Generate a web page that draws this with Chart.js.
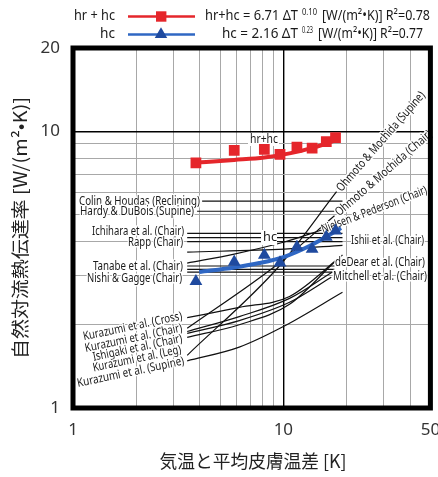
<!DOCTYPE html>
<html><head><meta charset="utf-8">
<script src="https://cdn.jsdelivr.net/npm/chart.js@4.4.1/dist/chart.umd.min.js"></script>
<style>html,body{margin:0;padding:0;background:#fff}#wrap{width:438px;height:477px;position:relative}</style>
</head><body><div id="wrap"><canvas id="c"></canvas></div>
<script>
const dT   = [3.84, 5.84, 8.12, 9.64, 11.6, 13.7, 16.0, 17.7];
const hrhc = [7.69, 8.53, 8.60, 8.25, 8.77, 8.70, 9.17, 9.49];
const hc   = [2.87, 3.37, 3.57, 3.35, 3.82, 3.75, 4.15, 4.37];
const hrhcFitX = [3.69, 5.84, 8.12, 10.7, 14.0, 18.5];
const hrhcFitY = [7.69, 7.88, 8.04, 8.32, 8.75, 9.39];
const hcFitX = [3.98, 5.84, 7.69, 10.1, 13.3, 18.8];
const hcFitY = [3.10, 3.22, 3.34, 3.52, 3.85, 4.47];

// literature correlations: [ΔT, h] pairs
const colinHoudas   = [[4.11,5.59],[19.1,5.59]];
const hardyDuBois   = [[3.89,5.14],[17.5,5.14]];
const ichihara      = [[3.49,4.28],[19.1,4.28]];
const ichiharaB     = [[3.49,4.13],[19.1,4.13]];
const rapp          = [[3.49,3.99],[19.1,3.99]];
const ishii         = [[3.49,3.66],[10.1,3.75],[19.1,3.87]];
const tanabe        = [[3.49,3.26],[17.5,3.26]];
const tanabeB       = [[3.49,3.17],[17.5,3.17]];
const nishiGagge    = [[3.49,3.10],[17.1,3.10]];
const nielsen       = [[3.49,3.34],[5.84,3.60],[10.1,3.98],[15.2,4.40]];
const ohmotoSupine  = [[3.49,1.55],[9.57,3.26],[17.9,6.05]];
const ohmotoChair   = [[3.49,1.94],[9.26,3.28],[17.5,4.95]];
const kurazumiCross = [[3.49,2.12],[6.17,2.31],[10.7,2.53],[19.1,3.57]];
const kurazumiChair = [[3.49,1.89],[6.17,2.14],[10.7,2.49],[17.1,3.10]];
const ishigaki      = [[3.49,1.86],[6.17,2.07],[10.7,2.41],[16.9,2.97]];
const kurazumiLeg   = [[3.49,1.80],[6.17,2.00],[10.7,2.37],[17.5,3.37]];
const kurazumiSup   = [[3.49,1.48],[6.17,1.66],[10.0,1.97],[19.1,2.62]];

const xGridValues = [1,2,3,4,5,6,7,8,9,10,20,30,40,50];
const yGridValues = [1,2,3,4,5,6,7,8,9,10,20];
const xTickLabels = [1,10,50];
const yTickLabels = [1,10,20];

const litCurves = [colinHoudas, hardyDuBois, ichihara, ichiharaB, rapp, ishii, tanabe, tanabeB,
  nishiGagge, nielsen, ohmotoSupine, ohmotoChair, kurazumiCross, kurazumiChair, ishigaki, kurazumiLeg, kurazumiSup];

const RED = '#e5262b', BLUE_LINE = '#2f67c3', BLUE_PT = '#1f4a9f';
const LAT = '"Noto Sans", "Open Sans", sans-serif';
const CJK = '"Noto Sans CJK JP", "Noto Sans", sans-serif';

function fitText(ctx, text, x, y, w, align, angle, font, color, halo) {
  ctx.save();
  ctx.font = font;
  const nat = ctx.measureText(text).width;
  const sx = w ? w / nat : 1;
  ctx.translate(x, y);
  if (angle) ctx.rotate(angle * Math.PI / 180);
  ctx.scale(sx, 1);
  ctx.textBaseline = 'middle';
  ctx.textAlign = align;
  if (halo) { ctx.strokeStyle = '#fff'; ctx.lineWidth = 3; ctx.lineJoin = 'round'; ctx.strokeText(text, 0, 0); }
  ctx.fillStyle = color;
  ctx.fillText(text, 0, 0);
  ctx.restore();
}

function drawLabels(chart) {
  const ctx = chart.ctx;
  const f = '12px ' + LAT;
  const L = (t, x, y, w, al, ang) => fitText(ctx, t, x, y, w, al, ang, f, '#1a1a1a', true);
  L('Colin & Houdas (Reclining)', 200, 201.5, 121, 'right', 0);
  L('Hardy & DuBois (Supine)', 194, 212, 114, 'right', 0);
  L('Ichihara et al. (Chair)', 184, 231.5, 92, 'right', 0);
  L('Rapp (Chair)', 183, 243, 55, 'right', 0);
  L('Tanabe et al. (Chair)', 183, 266.5, 90, 'right', 0);
  L('Nishi & Gagge (Chair)', 182, 278.5, 95, 'right', 0);
  L('Ishii et al. (Chair)', 351, 240.5, 73, 'left', 0);
  L('deDear et al. (Chair)', 335, 262.5, 90, 'left', 0);
  L('Mitchell et al. (Chair)', 333, 277, 94, 'left', 0);
  L('Ohmoto & Mochida (Supine)', 339, 190, 128, 'left', -49);
  L('Ohmoto & Mochida (Chair)', 337, 214, 124, 'left', -41);
  L('Nielsen & Pederson (Chair)', 322, 230, 112, 'left', -21);
  L('Kurazumi et al. (Cross)', 182, 316, 101, 'right', -12);
  L('Kurazumi et al. (Chair)', 182, 328, 99, 'right', -12);
  L('Ishigaki et al. (Chair)', 182, 338.5, 91, 'right', -12);
  L('Kurazumi et al. (Leg)', 181, 349.5, 90, 'right', -12);
  L('Kurazumi et al. (Supine)', 184, 361, 109, 'right', -12);
  // inline series labels with white boxes
  ctx.save(); ctx.fillStyle = '#fff';
  ctx.fillRect(261, 230, 16, 15);
  ctx.fillRect(248, 133, 31, 13);
  ctx.restore();
  fitText(ctx, 'hc', 263, 238, 14, 'left', 0, f, '#1a1a1a', false);
  fitText(ctx, 'hr+hc', 250, 139.5, 28, 'left', 0, f, '#1a1a1a', false);
}

function drawLegend(chart) {
  const ctx = chart.ctx;
  const big = '14px ' + LAT, sm = '8px ' + LAT, col = '#1a1a1a';
  // row 1
  let y = 16.5;
  fitText(ctx, 'hr + hc', 115, y, 41, 'right', 0, big, col, false);
  ctx.save();
  ctx.strokeStyle = RED; ctx.lineWidth = 2.5;
  ctx.beginPath(); ctx.moveTo(128, y); ctx.lineTo(195, y); ctx.stroke();
  ctx.fillStyle = RED; ctx.fillRect(156, y - 5.2, 10.4, 10.4);
  ctx.restore();
  fitText(ctx, 'hr+hc = 6.71 ΔT', 205, y, 93, 'left', 0, big, col, false);
  fitText(ctx, '0.10', 302, y - 3.5, 15, 'left', 0, sm, col, false);
  fitText(ctx, '[W/(m²•K)] R²=0.78', 322, y, 108, 'left', 0, big, col, false);
  // row 2
  y = 34.5;
  fitText(ctx, 'hc', 115, y, 15, 'right', 0, big, col, false);
  ctx.save();
  ctx.strokeStyle = BLUE_LINE; ctx.lineWidth = 2.5;
  ctx.beginPath(); ctx.moveTo(128, y); ctx.lineTo(195, y); ctx.stroke();
  ctx.fillStyle = BLUE_PT;
  const r = 7.2;
  ctx.beginPath();
  ctx.moveTo(161, y - r);
  ctx.lineTo(161 + r * 0.866, y + r * 0.5);
  ctx.lineTo(161 - r * 0.866, y + r * 0.5);
  ctx.closePath(); ctx.fill();
  ctx.restore();
  fitText(ctx, 'hc = 2.16 ΔT', 222, y, 76, 'left', 0, big, col, false);
  fitText(ctx, '0.23', 302, y - 3.5, 11, 'left', 0, sm, col, false);
  fitText(ctx, '[W/(m²•K)] R²=0.77', 318, y, 105, 'left', 0, big, col, false);
}

const annot = {
  id: 'annot',
  beforeDatasetsDraw(chart) { chart.$labelsDone = false; },
  beforeDatasetDraw(chart, args) {
    const d = chart.data.datasets[args.index];
    if (!chart.$labelsDone && d.order <= 1) { drawLabels(chart); chart.$labelsDone = true; }
  },
  afterDraw(chart) {
    const ctx = chart.ctx, ca = chart.chartArea;
    ctx.save();
    ctx.strokeStyle = '#000'; ctx.lineWidth = 5;
    ctx.strokeRect(ca.left, ca.top, ca.right - ca.left, ca.bottom - ca.top);
    ctx.restore();
    drawLegend(chart);
    fitText(ctx, '自然対流熱伝達率 [W/(m²•K)]', 20, 228, 262, 'center', -90, '18px ' + CJK, '#222', false);
    fitText(ctx, '気温と平均皮膚温差 [K]', 253, 461, 187, 'center', 0, '18px ' + CJK, '#222', false);
  }
};

const datasets = [];
datasets.push({ label: 'hr+hc', data: dT.map((x, i) => ({ x, y: hrhc[i] })), showLine: false,
  pointStyle: 'rect', pointRadius: 7.6, pointBackgroundColor: RED, pointBorderWidth: 0, order: 0 });
datasets.push({ label: 'hc', data: dT.map((x, i) => ({ x, y: hc[i] })), showLine: false,
  pointStyle: 'triangle', pointRadius: 7.4, pointBackgroundColor: BLUE_PT, pointBorderWidth: 0, order: 0 });
datasets.push({ label: 'hr+hc fit', data: hrhcFitX.map((x, i) => ({ x, y: hrhcFitY[i] })),
  borderColor: RED, borderWidth: 4, pointRadius: 0, cubicInterpolationMode: 'monotone', order: 1 });
datasets.push({ label: 'hc fit', data: hcFitX.map((x, i) => ({ x, y: hcFitY[i] })),
  borderColor: BLUE_LINE, borderWidth: 4, pointRadius: 0, cubicInterpolationMode: 'monotone', order: 1 });
litCurves.forEach(c => datasets.push({ data: c.map(([x, y]) => ({ x, y })), borderColor: '#111',
  borderWidth: 1.2, pointRadius: 0, cubicInterpolationMode: 'monotone', order: 5 }));

new Chart(document.getElementById('c'), {
  type: 'line',
  data: { datasets },
  options: {
    responsive: true, maintainAspectRatio: false, animation: false, events: [],
    layout: { padding: { top: 48, right: 5, left: 0, bottom: 0 } },
    plugins: { legend: { display: false }, tooltip: { enabled: false } },
    scales: {
      x: {
        type: 'logarithmic', min: 1, max: 50,
        afterBuildTicks: s => { s.ticks = xGridValues.map(v => ({ value: v })); },
        afterFit: s => { s.height = 69; s.paddingLeft = 0; s.paddingRight = 0; },
        ticks: { autoSkip: false, maxRotation: 0, padding: 12, color: '#333',
          font: { family: LAT, size: 17 },
          callback: v => xTickLabels.includes(v) ? String(v) : '' },
        grid: { drawTicks: false,
          color: c => (c.tick && c.tick.value === 10) ? '#000' : '#a8a8a8',
          lineWidth: c => (c.tick && c.tick.value === 10) ? 1.4 : 1 },
        border: { display: false }
      },
      y: {
        type: 'logarithmic', min: 1, max: 20,
        afterBuildTicks: s => { s.ticks = yGridValues.map(v => ({ value: v })); },
        afterFit: s => { s.width = 73; s.paddingTop = 0; s.paddingBottom = 0; },
        ticks: { autoSkip: false, padding: 13, color: '#333',
          font: { family: LAT, size: 17 },
          callback: v => yTickLabels.includes(v) ? String(v) : '' },
        grid: { drawTicks: false,
          color: c => (c.tick && c.tick.value === 10) ? '#000' : '#a8a8a8',
          lineWidth: c => (c.tick && c.tick.value === 10) ? 1.4 : 1 },
        border: { display: false }
      }
    }
  },
  plugins: [annot]
});
</script>
</body></html>
